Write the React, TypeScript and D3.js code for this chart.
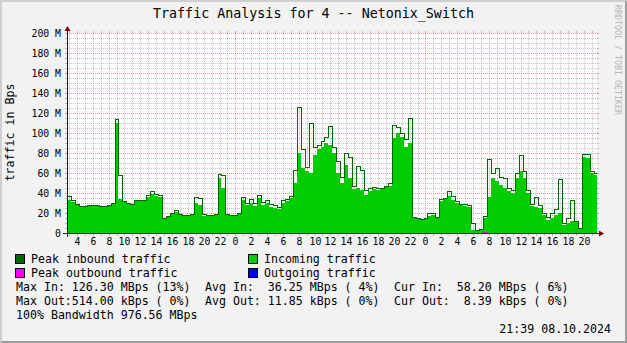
import React from 'react';
import * as d3 from 'd3';

// ---------- data ----------
const START_HOUR = 2.75; // hours since 00:00 of the first day
const STEP_HOURS = 0.5;
const END_HOUR = 69.65;

// Incoming traffic (average), MBps
const inAvg = [
  33, 31, 28, 27, 27, 27.5, 27.5, 27.5, 27, 27,
  28, 29.5, 110, 34, 31, 30, 28, 32, 33, 32,
  36, 39, 37, 36, 15, 16, 19, 21, 18, 17,
  17, 18, 30, 28, 17, 18, 18, 18, 55, 45,
  18, 17, 17, 19, 33, 28, 30, 27, 35, 28,
  30, 26, 25, 24, 30, 32, 35, 50, 80, 65,
  62, 60, 78, 84, 86, 90, 88, 80, 60, 50,
  68, 55, 44, 45, 43, 38, 42, 44, 43, 44,
  46, 47, 95, 100, 96, 86, 90, 15, 14, 13,
  14, 17, 18, 15, 32, 34, 37, 33, 30, 28,
  27, 26, 3, 2, 3, 15, 36, 55, 52, 48,
  45, 42, 40, 55, 62, 55, 40, 27, 26, 25,
  18, 13, 15, 18, 20, 8, 10, 12, 11, 4,
  76, 75, 60, 58.2,
];

// Peak inbound traffic, MBps
const inPeak = [
  37, 33, 29, 27.5, 27.5, 28, 28, 28, 27.5, 27.5,
  28.5, 30, 114, 58, 32, 30.5, 29, 33, 33.5, 33,
  38, 42, 39, 38, 15.5, 17, 20, 23, 19, 17.5,
  17.5, 19, 36, 35, 19, 18.5, 18.5, 19, 59, 58,
  19, 18, 18, 20, 36, 30, 34, 30, 38, 31,
  33, 29, 28, 26, 33, 34, 37, 63, 126.3, 84,
  66, 110, 86, 88, 92, 96, 107, 86, 72, 56,
  80, 76, 47, 67, 63, 43, 45, 46, 45, 45,
  47, 50, 108, 106, 100, 94, 115, 16, 15, 14,
  15, 20, 20, 16, 34, 35, 42, 37, 32, 29,
  29, 28, 10, 3, 4, 17, 74, 60, 65, 56,
  55, 45, 43, 60, 78, 62, 43, 29, 36, 28,
  20, 16, 20, 24, 54, 10, 15, 33, 12, 5,
  79, 79, 62, 60,
];

// Outgoing traffic (average), kBps
const outAvgK = [
  10, 11, 12, 10, 9, 11, 12, 13, 12, 11,
  10, 12, 14, 12, 11, 10, 9, 10, 12, 13,
  11, 10, 12, 11, 9, 8, 9, 10, 11, 12,
  10, 9, 11, 12, 13, 11, 10, 12, 14, 13,
  11, 10, 9, 10, 12, 11, 13, 14, 12, 11,
  10, 12, 13, 15, 14, 12, 11, 13, 14, 16,
  15, 13, 12, 11, 13, 12, 10, 11, 12, 14,
  13, 12, 11, 10, 12, 13, 11, 12, 14, 15,
  13, 12, 10, 9, 10, 11, 12, 10, 11, 13,
  12, 11, 10, 12, 11, 10, 9, 14, 18, 16,
  13, 12, 11, 10, 12, 13, 14, 12, 11, 10,
  12, 11, 10, 9, 11, 12, 10, 11, 13, 12,
  10, 9, 10, 11, 9, 8, 8, 9, 10, 9,
  9, 8, 9, 8.39,
];

// Peak outbound traffic, kBps
const outPeakK = [
  30, 28, 35, 26, 24, 31, 33, 38, 29, 27,
  25, 34, 48, 36, 30, 27, 22, 26, 33, 40,
  31, 28, 36, 30, 22, 20, 24, 27, 31, 35,
  26, 23, 30, 34, 38, 29, 25, 33, 44, 37,
  30, 26, 24, 27, 35, 30, 39, 42, 34, 30,
  27, 34, 38, 47, 41, 35, 31, 40, 52, 49,
  44, 38, 35, 32, 39, 34, 28, 31, 36, 42,
  38, 35, 31, 27, 34, 39, 31, 35, 43, 46,
  37, 35, 28, 24, 27, 31, 36, 28, 31, 39,
  34, 30, 27, 35, 31, 27, 24, 41, 55, 48,
  39, 34, 31, 28, 35, 514, 42, 36, 31, 28,
  35, 31, 27, 24, 30, 34, 27, 31, 38, 35,
  28, 24, 27, 30, 24, 20, 21, 24, 28, 25,
  24, 21, 25, 22,
];

const xTickHours = [4, 6, 8, 10, 12, 14, 16, 18, 20, 22, 24, 26, 28, 30, 32, 34, 36, 38, 40, 42, 44, 46, 48, 50, 52, 54, 56, 58, 60, 62, 64, 66, 68];
const xTickLabels = ['4', '6', '8', '10', '12', '14', '16', '18', '20', '22', '0', '2', '4', '6', '8', '10', '12', '14', '16', '18', '20', '22', '0', '2', '4', '6', '8', '10', '12', '14', '16', '18', '20'];
const yTickValues = [0, 20, 40, 60, 80, 100, 120, 140, 160, 180, 200];
const yTickLabels = ['0', '20 M', '40 M', '60 M', '80 M', '100 M', '120 M', '140 M', '160 M', '180 M', '200 M'];
const dayBoundaries = [24, 48];

const legendLabels = ['Peak inbound traffic', 'Incoming traffic', 'Peak outbound traffic', 'Outgoing traffic'];
const legendColors = ['#006600', '#00CC00', '#FF00FF', '#0000FF'];

const statRows = [
  ['Max In: 126.30 MBps (13%)', 'Avg In:  36.25 MBps ( 4%)', 'Cur In:  58.20 MBps ( 6%)'],
  ['Max Out:514.00 kBps ( 0%)', 'Avg Out: 11.85 kBps ( 0%)', 'Cur Out:  8.39 kBps ( 0%)'],
];
const bandwidthText = '100% Bandwidth 976.56 MBps';
const titleText = 'Traffic Analysis for 4 -- Netonix_Switch';
const yAxisTitle = 'traffic in Bps';
const timestampText = '21:39 08.10.2024';
const watermarkText = 'RRDTOOL / TOBI OETIKER';

// ---------- layout ----------
const W = 627, H = 343;
const X0 = 67, X1 = 597, Y0 = 233, Y1 = 33;
const MONO = "'DejaVu Sans Mono', monospace";
const GRID = 'rgba(143,143,143,0.55)';
const MGRID = 'rgba(222,79,79,0.6)';
const AXIS = '#212121';
const ARROW = '#800000';

export default function App() {
  const x = d3.scaleLinear().domain([START_HOUR, END_HOUR]).range([X0, X1]);
  const y = d3.scaleLinear().domain([0, 200]).range([Y0, Y1]);
  const N = inAvg.length;
  const times = d3.range(N + 1).map((i) => START_HOUR + i * STEP_HOURS);
  const ext = (a: number[]) => [...a, a[a.length - 1]];
  const px = (t: number) => Math.round(x(t));
  const py = (v: number) => Math.round(y(v));

  const areaGen = d3
    .area<number>()
    .x((_, i) => px(times[i]))
    .y0(y(0))
    .y1((d) => py(d))
    .curve(d3.curveStepAfter);
  const lineGen = d3
    .line<number>()
    .x((_, i) => px(times[i]) + 0.5)
    .y((d) => py(d) + 0.5)
    .curve(d3.curveStepAfter);

  const inAvgD = areaGen(ext(inAvg)) || '';
  const inPeakD = lineGen(ext(inPeak)) || '';
  const outAvgD = areaGen(ext(outAvgK.map((k) => k / 1000))) || '';
  const outPeakD = lineGen(ext(outPeakK.map((k) => k / 1000))) || '';

  const minorY = d3.range(5, 201, 5).filter((v) => v % 20 !== 0);
  const majorY = yTickValues;
  const minorX = d3.range(Math.ceil(START_HOUR), Math.floor(END_HOUR) + 1).filter((h) => h % 24 !== 0);

  return (
    <svg
      width={W}
      height={H}
      viewBox={`0 0 ${W} ${H}`}
      style={{ position: 'absolute', left: 0, top: 0, display: 'block' }}
    >
      <defs>
        <clipPath id="canvasClip">
          <rect x={X0} y={Y1} width={X1 - X0} height={Y0 - Y1} />
        </clipPath>
      </defs>
      {/* background and 3d shade */}
      <rect x={0} y={0} width={W} height={H} fill="#F2F2F2" />
      <polygon points={`0,0 ${W},0 ${W - 2},2 2,2 2,${H - 2} 0,${H}`} fill="#CFCFCF" />
      <polygon points={`0,${H} ${W},${H} ${W},0 ${W - 2},2 ${W - 2},${H - 2} 2,${H - 2}`} fill="#9E9E9E" />
      {/* canvas */}
      <rect x={X0} y={Y1} width={X1 - X0} height={Y0 - Y1} fill="#FFFFFF" />

      {/* grid */}
      <g shapeRendering="crispEdges">
        {minorY.map((v) => {
          const yy = py(v) + 0.5;
          return (
            <g key={'hy' + v}>
              <line x1={X0 - 2} x2={X0} y1={yy} y2={yy} stroke={GRID} />
              <line x1={X1} x2={X1 + 2} y1={yy} y2={yy} stroke={GRID} />
              <line x1={X0} x2={X1} y1={yy} y2={yy} stroke={GRID} strokeDasharray="1,1" />
            </g>
          );
        })}
        {minorX.map((h) => {
          const xx = px(h) + 0.5;
          return (
            <g key={'vx' + h}>
              <line x1={xx} x2={xx} y1={Y1 - 2} y2={Y1} stroke={GRID} />
              <line x1={xx} x2={xx} y1={Y0} y2={Y0 + 3} stroke={GRID} />
              <line x1={xx} x2={xx} y1={Y1} y2={Y0} stroke={GRID} strokeDasharray="1,1" />
            </g>
          );
        })}
        {majorY.map((v) => {
          const yy = py(v) + 0.5;
          return (
            <g key={'my' + v}>
              <line x1={X0 - 2} x2={X0} y1={yy} y2={yy} stroke={MGRID} />
              <line x1={X1} x2={X1 + 2} y1={yy} y2={yy} stroke={MGRID} />
              <line x1={X0} x2={X1} y1={yy} y2={yy} stroke={MGRID} strokeDasharray="1,1" />
            </g>
          );
        })}
        {dayBoundaries.map((h) => {
          const xx = px(h) + 0.5;
          return (
            <g key={'mx' + h}>
              <line x1={xx} x2={xx} y1={Y1 - 2} y2={Y1} stroke={MGRID} />
              <line x1={xx} x2={xx} y1={Y0} y2={Y0 + 3} stroke={MGRID} />
              <line x1={xx} x2={xx} y1={Y1} y2={Y0} stroke={MGRID} strokeDasharray="1,1" />
            </g>
          );
        })}
      </g>

      {/* data */}
      <g clipPath="url(#canvasClip)">
        <path d={inAvgD} fill="#00CC00" shapeRendering="crispEdges" />
        <path d={inPeakD} fill="none" stroke="#006600" strokeWidth={1} shapeRendering="crispEdges" />
        <path d={outAvgD} fill="#0000FF" shapeRendering="crispEdges" />
        <path d={outPeakD} fill="none" stroke="#FF00FF" strokeWidth={1} shapeRendering="crispEdges" />
      </g>

      {/* axes */}
      <g shapeRendering="crispEdges">
        <line x1={X0 - 4} x2={X1 + 4} y1={Y0 + 0.5} y2={Y0 + 0.5} stroke={AXIS} />
        <line x1={X0 + 0.5} x2={X0 + 0.5} y1={Y0 + 4} y2={Y1 - 4} stroke={AXIS} />
      </g>
      <polygon points={`${X1 + 2},${Y0 - 2.5} ${X1 + 2},${Y0 + 3.5} ${X1 + 7},${Y0 + 0.5}`} fill={ARROW} />
      <polygon points={`${X0 - 2.5},${Y1 - 2} ${X0 + 3.5},${Y1 - 2} ${X0 + 0.5},${Y1 - 7}`} fill={ARROW} />

      {/* tick labels */}
      <g fontFamily={MONO} fontSize={9.8} fill="#000">
        {yTickValues.map((v, i) => (
          <text key={'yl' + v} x={61} y={py(v) + 4} textAnchor="end">
            {yTickLabels[i]}
          </text>
        ))}
        {xTickHours.map((h, i) => (
          <text key={'xl' + h} x={px(h) + 0.5} y={245} textAnchor="middle">
            {xTickLabels[i]}
          </text>
        ))}
      </g>

      {/* titles */}
      <text x={313.5} y={17.5} textAnchor="middle" fontFamily={MONO} fontSize={13.33} fill="#000">
        {titleText}
      </text>
      <text
        transform="translate(14,132.5) rotate(-90)"
        textAnchor="middle"
        fontFamily={MONO}
        fontSize={11.6}
        fill="#000"
      >
        {yAxisTitle}
      </text>
      <text
        transform="translate(614.5,5) rotate(90)"
        fontFamily={MONO}
        fontSize={8.3}
        fill="#B4B4B4"
      >
        {watermarkText}
      </text>

      {/* legend */}
      <g fontFamily={MONO} fontSize={11.6} fill="#000" style={{ whiteSpace: 'pre' }}>
        {legendLabels.map((lab, i) => {
          const col = i % 2;
          const row = Math.floor(i / 2);
          const bx = col === 0 ? 15.5 : 248.5;
          const by = 254.5 + row * 14;
          return (
            <g key={lab}>
              <rect x={bx} y={by} width={9} height={9} fill={legendColors[i]} stroke="#000" strokeWidth={1} />
              <text x={bx + 15.5} y={263 + row * 14}>
                {lab}
              </text>
            </g>
          );
        })}
        {statRows.map((row, r) =>
          row.map((s, c) => (
            <text key={'s' + r + c} x={16 + c * 189} y={291 + r * 14} xmlSpace="preserve">
              {s}
            </text>
          ))
        )}
        <text x={16} y={319} xmlSpace="preserve">
          {bandwidthText}
        </text>
        <text x={611} y={333} textAnchor="end">
          {timestampText}
        </text>
      </g>
    </svg>
  );
}
